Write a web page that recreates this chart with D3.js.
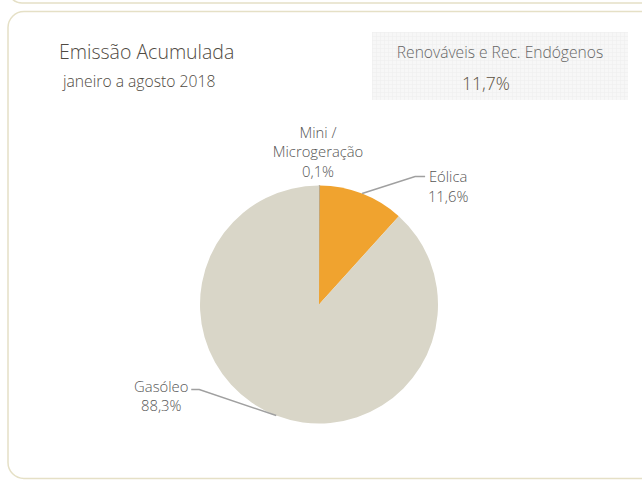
<!DOCTYPE html>
<html>
<head>
<meta charset="utf-8">
<script src="https://cdn.jsdelivr.net/npm/d3@7"></script>
<style>
  body { margin: 0; background: #fff; }
  svg text { font-family: "Open Sans", "Noto Sans", sans-serif; font-weight: 300; }
</style>
</head>
<body>
<script>
const categories = ["Mini / Microgeração", "Eólica", "Gasóleo"]
const shares = [0.1, 11.6, 88.3]
const shareLabels = ["0,1%", "11,6%", "88,3%"]
const colors = ["#A9A9A6", "#F0A32F", "#D9D6C8"]
const renewTitle = "Renováveis e Rec. Endógenos"
const renewValue = "11,7%"

const W = 642, H = 480
const svg = d3.select("body").append("svg")
  .attr("width", W).attr("height", H)

// pattern for the kpi box
const defs = svg.append("defs")
const pat = defs.append("pattern").attr("id", "grid")
  .attr("width", 4).attr("height", 4).attr("patternUnits", "userSpaceOnUse")
pat.append("rect").attr("width", 4).attr("height", 4).attr("fill", "#f7f7f7")
pat.append("path").attr("d", "M0,0H4M0,0V4").attr("stroke", "#eeeeee").attr("stroke-width", 1)

// cards
svg.append("rect")
  .attr("x", 8).attr("y", -40).attr("width", 680).attr("height", 43)
  .attr("rx", 14).attr("fill", "none")
  .attr("stroke", "#E5E0C6").attr("stroke-width", 1.5)
svg.append("rect")
  .attr("x", 8).attr("y", 11.5).attr("width", 680).attr("height", 467)
  .attr("rx", 16).attr("fill", "none")
  .attr("stroke", "#E5E0C6").attr("stroke-width", 1.5)

// titles
svg.append("text").attr("x", 59).attr("y", 59)
  .attr("font-size", 19.5).attr("fill", "#4f4a42").text("Emissão Acumulada")
svg.append("text").attr("x", 63).attr("y", 87)
  .attr("font-size", 15.7).attr("fill", "#4f4a42").text("janeiro a agosto 2018")

// kpi box
svg.append("rect").attr("x", 372).attr("y", 32).attr("width", 256).attr("height", 68)
  .attr("fill", "url(#grid)")
svg.append("text").attr("x", 500).attr("y", 58).attr("text-anchor", "middle")
  .attr("font-size", 15.6).attr("fill", "#666666").text(renewTitle)
svg.append("text").attr("x", 486).attr("y", 90).attr("text-anchor", "middle")
  .attr("font-size", 17.5).attr("fill", "#5b5040").text(renewValue)

// pie
const cx = 319, cy = 304.5, r = 119
const pie = d3.pie().sort(null).value(d => d)
const arcs = pie(shares)
const arc = d3.arc().innerRadius(0).outerRadius(r)
const g = svg.append("g").attr("transform", `translate(${cx},${cy})`)

g.selectAll("path").data(arcs).enter().append("path")
  .attr("d", arc)
  .attr("fill", (d, i) => colors[i])
  .attr("stroke", (d, i) => i === 0 ? colors[0] : "none")
  .attr("stroke-width", 1)

function edge(d) {
  const a = (d.startAngle + d.endAngle) / 2
  return [Math.sin(a) * r, -Math.cos(a) * r]
}

const labelColor = "#555555"
const fs = 14.8
const lh = 19.5

// Mini / Microgeração label, above the pie
const mini = g.append("text").attr("text-anchor", "middle")
  .attr("font-size", fs).attr("fill", labelColor)
mini.append("tspan").attr("x", -1).attr("y", -166.5).text("Mini /")
mini.append("tspan").attr("x", -1).attr("y", -147.5).text("Microgeração")
mini.append("tspan").attr("x", -1).attr("y", -128).text(shareLabels[0])

// Eólica label with leader
const pE = edge(arcs[1])
const eE = [pE[0] + 53, pE[1] - 17]
g.append("polyline")
  .attr("points", [pE, eE, [eE[0] + 10, eE[1]]].map(p => p.join(",")).join(" "))
  .attr("fill", "none").attr("stroke", "#a0a0a0").attr("stroke-width", 1.5)
const eo = g.append("text").attr("text-anchor", "middle")
  .attr("font-size", fs).attr("fill", labelColor)
eo.append("tspan").attr("x", eE[0] + 33).attr("y", eE[1] + 5.5).text(categories[1])
eo.append("tspan").attr("x", eE[0] + 33).attr("y", eE[1] + 5.5 + lh).text(shareLabels[1])

// Gasóleo label with leader
const pG = edge(arcs[2])
const eG = [pG[0] - 77, pG[1] - 26]
g.append("polyline")
  .attr("points", [pG, eG, [eG[0] - 8, eG[1]]].map(p => p.join(",")).join(" "))
  .attr("fill", "none").attr("stroke", "#a0a0a0").attr("stroke-width", 1.5)
const ga = g.append("text").attr("text-anchor", "middle")
  .attr("font-size", fs).attr("fill", labelColor)
ga.append("tspan").attr("x", eG[0] - 38).attr("y", eG[1] + 2).text(categories[2])
ga.append("tspan").attr("x", eG[0] - 38).attr("y", eG[1] + 2 + lh).text(shareLabels[2])
</script>
</body>
</html>
